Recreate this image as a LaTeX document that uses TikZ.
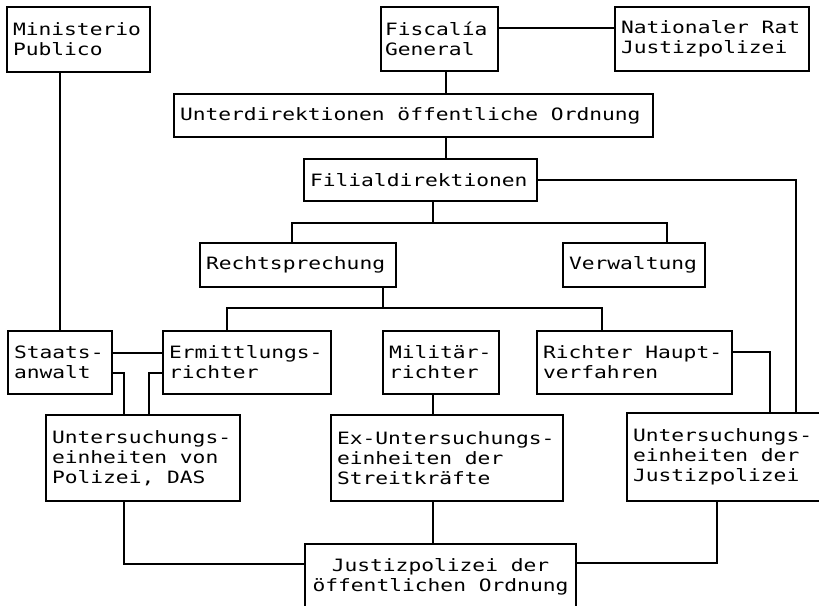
\documentclass[tikz,border=0pt]{standalone}
\usepackage{fontspec}
\newfontfamily\typew[FakeStretch=1.25]{DejaVu Sans Mono}
\newcommand\orgboxfont{\typew\fontsize{17}{20}\selectfont}
\begin{document}
\begin{tikzpicture}[x=1pt,y=-1pt,
  box/.style={draw, line width=1.1pt, rectangle, inner xsep=6pt, inner ysep=0pt, align=left,
    font=\orgboxfont, execute at begin node={\spaceskip=12.8pt\relax}},
  conn/.style={line width=1.1pt}]
\useasboundingbox (0,0) rectangle (819,605);
\fill[white] (0,0) rectangle (819,605);
\clip (0,0) rectangle (819,605);

\node[box, minimum width=143pt, minimum height=65pt, text width=131pt] (min) at (78.5,39.5) {Ministerio\\Publico};
\node[box, inner xsep=4pt, minimum width=117pt, minimum height=64pt, text width=109pt] (fis) at (439.5,39) {Fiscalía\\General};
\node[box, minimum width=194pt, minimum height=64pt, text width=182pt] (nat) at (712,39) {Nationaler Rat\\Justizpolizei};
\node[box, minimum width=479pt, minimum height=43pt, text width=467pt] (unter) at (413.5,115.5) {Unterdirektionen öffentliche Ordnung};
\node[box, minimum width=233pt, minimum height=42pt, text width=221pt] (filial) at (420.5,180) {Filialdirektionen};
\node[box, minimum width=196pt, minimum height=44pt, text width=184pt] (recht) at (298,265) {Rechtsprechung};
\node[box, minimum width=142pt, minimum height=44pt, text width=130pt] (verw) at (634,265) {Verwaltung};
\node[box, minimum width=104pt, minimum height=63pt, text width=92pt] (staat) at (60,362.5) {Staats-\\anwalt};
\node[box, minimum width=168pt, minimum height=63pt, text width=156pt] (ermitt) at (247,362.5) {Ermittlungs-\\richter};
\node[box, minimum width=116pt, minimum height=63pt, text width=104pt] (milit) at (441,362.5) {Militär-\\richter};
\node[box, minimum width=195pt, minimum height=63pt, text width=183pt] (richter) at (634.5,362.5) {Richter Haupt-\\verfahren};
\node[box, minimum width=194pt, minimum height=86pt, text width=182pt] (upol) at (143,458) {Untersuchungs-\\einheiten von\\Polizei, DAS};
\node[box, minimum width=232pt, minimum height=86pt, text width=220pt] (ustr) at (447,458) {Ex-Untersuchungs-\\einheiten der\\Streitkräfte};
\node[box, minimum width=203pt, minimum height=88pt, text width=191pt] (ujus) at (728.5,457) {Untersuchungs-\\einheiten der\\Justizpolizei};
\node[box, align=center, minimum width=271pt, minimum height=66pt, text width=259pt] (justiz) at (440.5,577) {Justizpolizei der\\öffentlichen Ordnung};

\coordinate (b1) at (433,223);
\coordinate (b2) at (383,308);

\draw[conn] ([yshift=11pt]fis.east) -- ([yshift=11pt]nat.west);
\draw[conn] ([xshift=6.5pt]fis.south) -- ([xshift=32.5pt]unter.north);
\draw[conn] ([xshift=32.5pt]unter.south) -- ([xshift=25.5pt]filial.north);
\draw[conn] (filial.east) -| ([xshift=67.5pt]ujus.north);
\draw[conn] ([xshift=12.5pt]filial.south) -- (b1);
\draw[conn] ([xshift=-6pt]recht.north) |- (b1) -| ([xshift=33pt]verw.north);
\draw[conn] ([xshift=85pt]recht.south) -- (b2);
\draw[conn] ([xshift=-20pt]ermitt.north) |- (b2) -| ([xshift=-32.5pt]richter.north);
\draw[conn] ([xshift=-18.5pt]min.south) -- (staat.north);
\draw[conn] ([yshift=9.5pt]staat.east) -- ([yshift=9.5pt]ermitt.west);
\draw[conn] ([yshift=-10.5pt]staat.east) -| ([xshift=-19pt]upol.north);
\draw[conn] ([yshift=-10.5pt]ermitt.west) -| ([xshift=6pt]upol.north);
\draw[conn] ([xshift=-8pt]milit.south) -- ([xshift=-14pt]ustr.north);
\draw[conn] ([yshift=10.5pt]richter.east) -| ([xshift=41.5pt]ujus.north);
\draw[conn] ([xshift=-19pt]upol.south) |- ([yshift=13pt]justiz.west);
\draw[conn] ([xshift=-14pt]ustr.south) -- ([xshift=-7.5pt]justiz.north);
\draw[conn] ([yshift=14pt]justiz.east) -| ([xshift=-11.5pt]ujus.south);
\end{tikzpicture}
\end{document}
